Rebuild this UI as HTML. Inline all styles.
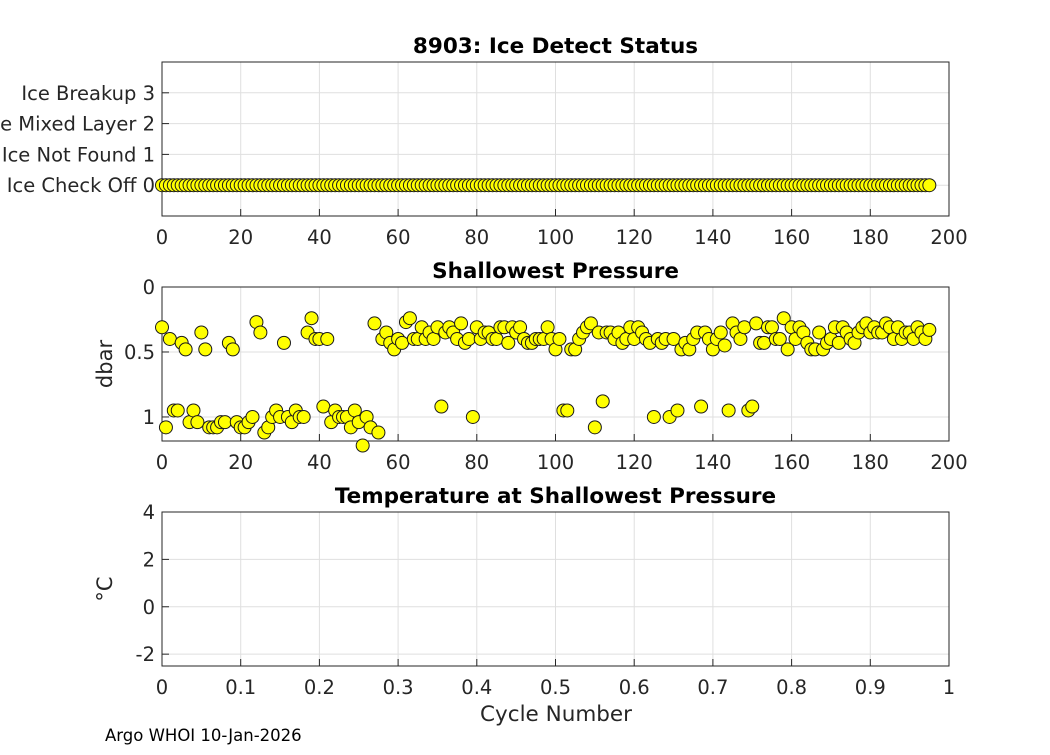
<!DOCTYPE html>
<html><head><meta charset="utf-8"><style>
body{margin:0;background:#fff}
svg{font-family:"DejaVu Sans","Liberation Sans",sans-serif}
</style></head><body>
<svg id="fig" width="1050" height="750" viewBox="0 0 1050 750" xmlns="http://www.w3.org/2000/svg">
<rect width="1050" height="750" fill="#fff"/>
<g id="p1"></g>
<g id="p2"></g>
<g id="p3"></g>
<text x="105" y="741" font-size="16.5" fill="#000">Argo WHOI 10-Jan-2026</text>
</svg>
<script>
const iceCycles = Array.from({length:196},(_,i)=>i);
const iceValues = iceCycles.map(()=>0);
const iceTickLabels = ["Ice Check Off 0","Ice Not Found 1","Ice Mixed Layer 2","Ice Breakup 3"];
const presValues = [0.31,1.08,0.40,0.95,0.95,0.43,0.48,1.04,0.95,1.04,
0.35,0.48,1.08,1.08,1.08,1.04,1.04,0.43,0.48,1.04,
1.08,1.08,1.04,1.0,0.27,0.35,1.12,1.08,1.0,0.95,
1.0,0.43,1.0,1.04,0.95,1.0,1.0,0.35,0.24,0.40,
0.40,0.92,0.40,1.04,0.95,1.0,1.0,1.0,1.08,0.95,
1.04,1.22,1.0,1.08,0.28,1.12,0.40,0.35,0.43,0.48,
0.40,0.43,0.27,0.24,0.40,0.40,0.31,0.40,0.35,0.40,
0.31,0.92,0.35,0.31,0.35,0.40,0.28,0.43,0.40,1.0,
0.31,0.40,0.35,0.35,0.40,0.40,0.31,0.31,0.43,0.31,
0.35,0.31,0.40,0.43,0.43,0.40,0.40,0.40,0.31,0.40,
0.48,0.40,0.95,0.95,0.48,0.48,0.40,0.35,0.31,0.28,
1.08,0.35,0.88,0.35,0.35,0.40,0.35,0.43,0.40,0.31,
0.40,0.31,0.35,0.40,0.43,1.0,0.40,0.43,0.40,1.0,
0.40,0.95,0.48,0.43,0.48,0.40,0.35,0.92,0.35,0.40,
0.48,0.40,0.35,0.45,0.95,0.28,0.35,0.40,0.31,0.95,
0.92,0.28,0.43,0.43,0.31,0.31,0.40,0.40,0.24,0.48,
0.31,0.40,0.31,0.35,0.43,0.48,0.48,0.35,0.48,0.43,
0.40,0.31,0.43,0.31,0.35,0.40,0.43,0.35,0.31,0.28,
0.35,0.31,0.35,0.35,0.28,0.31,0.40,0.31,0.40,0.35,
0.35,0.40,0.31,0.35,0.40,0.33];
const presCycles = presValues.map((_,i)=>i);
const xTicks = [0,20,40,60,80,100,120,140,160,180,200];
const presTicks = [0,0.5,1];
const presTickLabels = ["0","0.5","1"];
const tempTicks = [-2,0,2,4];
const t3Ticks = [0,0.1,0.2,0.3,0.4,0.5,0.6,0.7,0.8,0.9,1];

const NS="http://www.w3.org/2000/svg";
function mk(parent,tag,attrs,text){const e=document.createElementNS(NS,tag);for(const k in attrs)e.setAttribute(k,attrs[k]);if(text!==undefined)e.textContent=text;parent.appendChild(e);return e;}
const L=162,R=949;
function panel(g,top,bot,xmin,xmax,ymin,ymax,xt,xtl,yt,ytl,title,ylabel){
  const sx=v=>L+(v-xmin)/(xmax-xmin)*(R-L);
  const sy=v=>bot-(v-ymin)/(ymax-ymin)*(bot-top);
  mk(g,'rect',{x:L,y:top,width:R-L,height:bot-top,fill:'#fff'});
  xt.forEach((v,i)=>{
    const gl=mk(g,'line',{x1:sx(v),x2:sx(v),y1:top,y2:bot,stroke:'#dfdfdf','stroke-width':1});
    
    
    mk(g,'line',{x1:sx(v),x2:sx(v),y1:bot,y2:bot-7,stroke:'#262626'});
    const t=mk(g,'text',{x:sx(v),y:bot+28,'font-size':19.5,'text-anchor':'middle',fill:'#262626'},xtl[i]);
    
    
  });
  yt.forEach((v,i)=>{
    const gl=mk(g,'line',{x1:L,x2:R,y1:sy(v),y2:sy(v),stroke:'#dfdfdf','stroke-width':1});
    
    
    mk(g,'line',{x1:L,x2:L+7,y1:sy(v),y2:sy(v),stroke:'#262626'});
    const t=mk(g,'text',{x:L-7,y:sy(v)+7,'font-size':19.5,'text-anchor':'end',fill:'#262626'},ytl[i]);
    
    
  });
  mk(g,'rect',{x:L,y:top,width:R-L,height:bot-top,fill:'none',stroke:'#262626','stroke-width':1});
  const tt=mk(g,'text',{x:(L+R)/2,y:top-9,'font-size':21.5,'font-weight':'bold','text-anchor':'middle',fill:'#000'},title);
  
  
  if(ylabel){const yl=mk(g,'text',{x:0,y:0,'font-size':21,'text-anchor':'middle',fill:'#262626',transform:`translate(112,${(top+bot)/2}) rotate(-90)`},ylabel);
    
    }
  return {sx,sy};
}
function dots(g,s,xs,ys,name){
  xs.forEach((x,i)=>{const c=mk(g,'circle',{cx:s.sx(x),cy:s.sy(ys[i]),r:6.5,fill:'#ffff00',stroke:'#1a1a1a','stroke-width':1});
    
    });
}
const g1=document.getElementById('p1'),g2=document.getElementById('p2'),g3=document.getElementById('p3');
const s1=panel(g1,62,216,0,200,-1,4,xTicks,xTicks.map(String),[0,1,2,3],iceTickLabels,'8903: Ice Detect Status',null);
dots(g1,s1,iceCycles,iceValues,'ice-status-point');
const s2=panel(g2,287,441,0,200,1.185,0,xTicks,xTicks.map(String),presTicks,presTickLabels,'Shallowest Pressure','dbar');
s2.sy=v=>287+v/1.185*(441-287);
dots(g2,s2,presCycles,presValues,'pressure-point');
panel(g3,512,666,0,1,-2.5,4,t3Ticks,t3Ticks.map(String),tempTicks,tempTicks.map(String),'Temperature at Shallowest Pressure','°C');
const xl=mk(g3,'text',{x:556,y:721,'font-size':21.5,'text-anchor':'middle',fill:'#262626'},'Cycle Number');


</script>
</body></html>
